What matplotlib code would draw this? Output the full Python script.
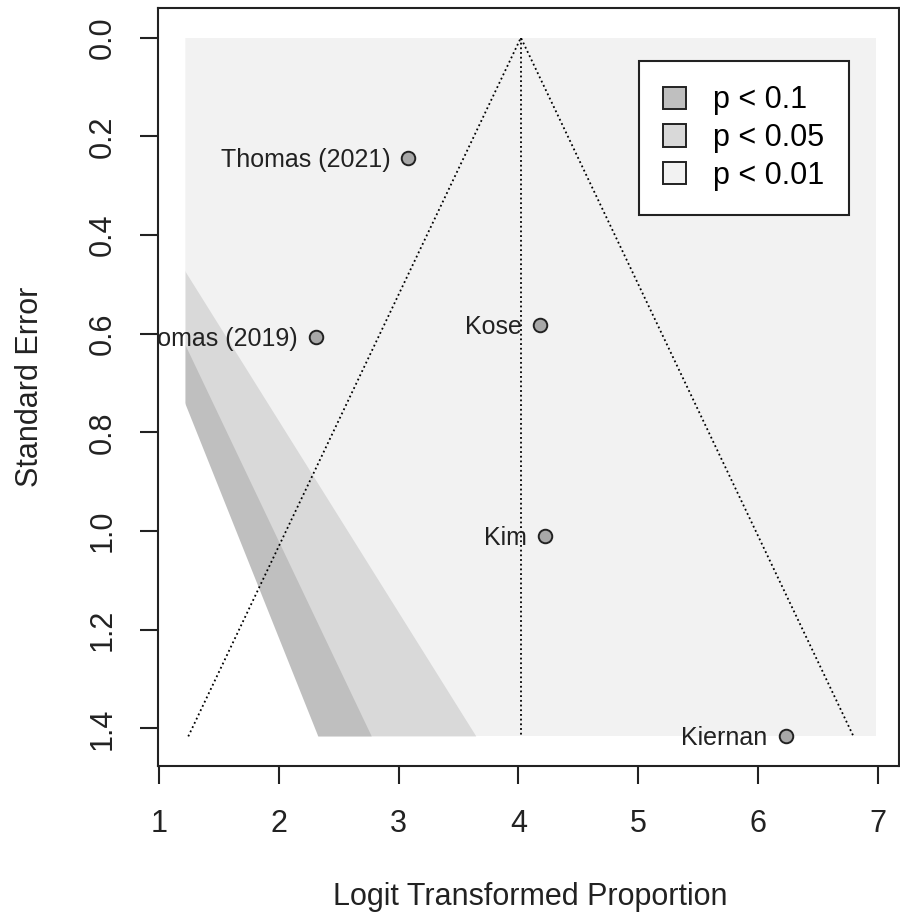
import numpy as np
import matplotlib
matplotlib.use("Agg")
import matplotlib.pyplot as plt
from matplotlib.patches import Rectangle, Patch

# ---- data ----
studies = ["Thomas (2021)", "Thomas (2019)", "Kose", "Kim", "Kiernan"]
yi = [3.08, 2.31, 4.18, 4.22, 6.23]
sei = [0.244, 0.607, 0.583, 1.010, 1.416]
estimate = 4.02
levels = ["p < 0.1", "p < 0.05", "p < 0.01"]
zcrit = [1.645, 1.960, 2.576]
shades = ["#bfbfbf", "#d9d9d9", "#f2f2f2"]
x_region = [1.22, 6.98]
xticks = [1, 2, 3, 4, 5, 6, 7]
yticks = [0.0, 0.2, 0.4, 0.6, 0.8, 1.0, 1.2, 1.4]

plt.rcParams['font.family'] = ['Liberation Sans', 'DejaVu Sans']
W, H = 900, 921
fig = plt.figure(figsize=(W / 100, H / 100), dpi=100)
L, R, T, B = 158, 899, 8.3, 766
ax = fig.add_axes([L / W, 1 - B / H, (R - L) / W, (B - T) / H])
ax.set_xlim(0.992, 7.175)
ax.set_ylim(1.476, -0.0596)

ymax = max(sei)
x0, x1 = x_region
se = np.linspace(0, ymax, 400)
ax.add_patch(Rectangle((x0, 0), x1 - x0, ymax, facecolor=shades[2], lw=0, zorder=1))
ax.fill_betweenx(se, x0, np.clip(zcrit[2] * se, x0, x1), facecolor=shades[1], lw=0, zorder=1)
ax.fill_betweenx(se, x0, np.clip(zcrit[1] * se, x0, x1), facecolor=shades[0], lw=0, zorder=1)
# non-significant region (white); extended a hair past the region edge to avoid seams
se_w = np.linspace(0, ymax + 0.004, 400)
ax.fill_betweenx(se_w, x0 - 0.01, np.clip(zcrit[0] * np.minimum(se_w, ymax), x0, x1),
                 facecolor="white", lw=0, zorder=1)

# funnel
zf = 1.96
ax.plot([estimate - zf * ymax, estimate, estimate + zf * ymax], [ymax, 0, ymax],
        ls=(0, (1, 1.6)), color="black", lw=1.3, zorder=3)
ax.plot([estimate, estimate], [0, ymax], ls=(0, (1, 1.6)), color="black", lw=1.3, zorder=3)

# points
ax.scatter(yi, sei, s=95, facecolor="#a8a8a8", edgecolor="#222222", lw=1.4, zorder=5)
for name, x, y in zip(studies, yi, sei):
    t = ax.annotate(name, (x, y), xytext=(-13, -1.5), textcoords="offset points",
                    ha="right", va="center", fontsize=18, color="#222222", zorder=6)
    t.set_clip_path(ax.patch)
    t.set_clip_on(True)

# axes styling
for s in ax.spines.values():
    s.set_linewidth(1.5)
    s.set_color("#222222")
ax.set_xticks(xticks)
ax.set_xticklabels([str(v) for v in xticks])
ax.set_yticks(yticks)
ax.set_yticklabels([f"{v:.1f}" for v in yticks], rotation=90, va="center")
ax.tick_params(axis="both", direction="out", length=13, width=1.5, color="#222222",
               labelsize=22, labelcolor="#222222")
ax.tick_params(axis="x", pad=18)
ax.tick_params(axis="y", pad=16)

fig.text(530 / W, 1 - 897 / H, "Logit Transformed Proportion", ha="center", va="center",
         fontsize=22, color="#222222")
fig.text(30 / W, 1 - 387 / H, "Standard Error", ha="center", va="center", rotation=90,
         fontsize=22, color="#222222")

handles = [Patch(facecolor=c, edgecolor="#222222", lw=1.4) for c in shades]
leg = ax.legend(handles, levels, loc="upper left", bbox_to_anchor=(639 / W, 1 - 61 / H),
                bbox_transform=fig.transFigure, fontsize=22, frameon=True, fancybox=False,
                handlelength=0.75, handleheight=0.75, handletextpad=0.88,
                labelspacing=0.25, borderpad=0.8, borderaxespad=0)
leg.get_frame().set_edgecolor("#222222")
leg.get_frame().set_linewidth(1.5)
leg.get_frame().set_facecolor("white")
leg.get_frame().set_alpha(1)
leg.set_zorder(10)

fig.savefig("out.png", dpi=100)
